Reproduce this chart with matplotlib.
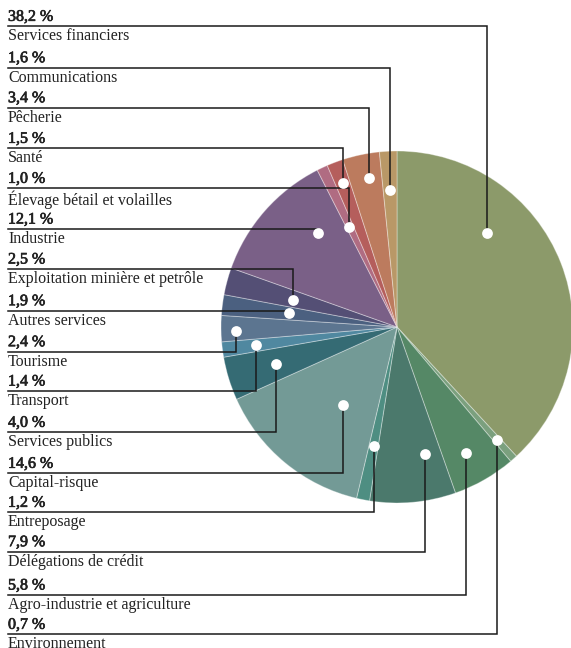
import numpy as np
import matplotlib
matplotlib.use("Agg")
import matplotlib.pyplot as plt
import matplotlib.patheffects as pe

# donnees (ordre horaire depuis le haut)
secteurs = ["Services financiers", "Environnement", "Agro-industrie et agriculture",
            "Délégations de crédit", "Entreposage", "Capital-risque", "Services publics",
            "Transport", "Tourisme", "Autres services", "Exploitation minière et petrôle",
            "Industrie", "Élevage bétail et volailles", "Santé", "Pêcherie", "Communications"]
parts = [38.2, 0.7, 5.8, 7.9, 1.2, 14.6, 4.0, 1.4, 2.4, 1.9, 2.5, 12.1, 1.0, 1.5, 3.4, 1.6]
couleurs = ["#8C9A6A", "#7BA07E", "#558866", "#4B796C", "#4E8E82", "#739A96", "#356B74",
            "#5088A0", "#5C7590", "#4B6080", "#544F75", "#7A6087", "#B06C82", "#B55E5C",
            "#BC7B5E", "#B99867"]

# ordre des etiquettes a gauche (haut -> bas)
ordre_legende = [0, 15, 14, 13, 12, 11, 10, 9, 8, 7, 6, 5, 4, 3, 2, 1]

# mise en page (pixels)
W, H = 571, 648
cx, cy, R = 397, 648 - 327, 176
# position des points dans chaque part : fraction d'angle, fraction de rayon
frac_ang = [0.32, 0.5, 0.55, 0.25, 0.5, 0.41, 0.5, 0.5, 0.4, 0.5, 0.45, 0.70, 0.4, 0.5, 0.6, 0.5]
frac_ray = [0.74, 0.86, 0.82, 0.74, 0.69, 0.54, 0.72, 0.81, 0.915, 0.62, 0.61, 0.70, 0.63, 0.875, 0.86, 0.78]
y_lignes = [26.3, 67.7, 107.7, 148.3, 188.3, 229, 269, 310.7, 351.7, 391, 432.3, 473.3,
            512.3, 551.7, 595, 634.3]

fig = plt.figure(figsize=(W / 100, H / 100), dpi=100)
ax = fig.add_axes([0, 0, 1, 1])

ax.pie(parts, colors=couleurs, startangle=90, counterclock=False, center=(cx, cy), radius=R,
       wedgeprops=dict(edgecolor=(1, 1, 1, 0.35), linewidth=0.7))

total = sum(parts)
cum = np.cumsum([0] + parts[:-1]) / total * 360
larg = np.array(parts) / total * 360

px, py = [], []
for i in range(len(parts)):
    th = np.radians(cum[i] + frac_ang[i] * larg[i])
    r = frac_ray[i] * R
    px.append(cx + r * np.sin(th))
    py.append(cy + r * np.cos(th))

font = "Liberation Serif"
gras = [pe.withStroke(linewidth=0.5, foreground="#222222")]
for k, i in enumerate(ordre_legende):
    yl = H - y_lignes[k]
    ax.plot([8, px[i], px[i]], [yl, yl, py[i]], color="#1a1a1a", lw=1.1,
            solid_joinstyle="miter", zorder=3)
    ax.text(8, yl + 1.5, f"{parts[i]:.1f} %".replace(".", ","), fontsize=11.5,
            family=font, color="#222222", va="bottom", ha="left", path_effects=gras)
    ax.text(8, yl - 2, secteurs[i], fontsize=11.5, family=font, color="#222222",
            va="top", ha="left")

ax.scatter(px, py, s=60, color="white", zorder=4, linewidths=0)

ax.set_xlim(0, W)
ax.set_ylim(0, H)
ax.set_aspect("equal")
ax.axis("off")
fig.savefig("out.png", dpi=100)
